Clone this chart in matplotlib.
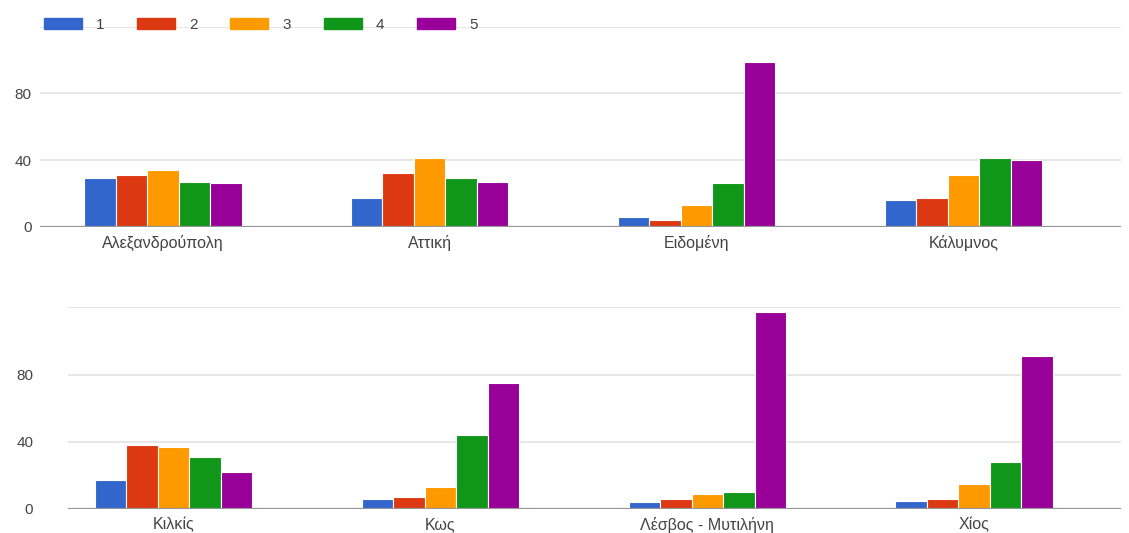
import matplotlib
matplotlib.use("Agg")
import matplotlib.pyplot as plt
from matplotlib.patches import Rectangle
import numpy as np

plt.rcParams["font.family"] = ["Liberation Sans", "DejaVu Sans"]

# Locations, split over two rows of four
locations_top = ["Αλεξανδρούπολη", "Αττική", "Ειδομένη", "Κάλυμνος"]
locations_bottom = ["Κιλκίς", "Κως", "Λέσβος - Μυτιλήνη", "Χίος"]

# Rating labels (legend)
ratings = ["1", "2", "3", "4", "5"]

# Counts per rating, in location order (top row then bottom row)
rating_1 = [29, 17, 6, 16, 17, 6, 4, 5]
rating_2 = [31, 32, 4, 17, 38, 7, 6, 6]
rating_3 = [34, 41, 13, 31, 37, 13, 9, 15]
rating_4 = [27, 29, 26, 41, 31, 44, 10, 28]
rating_5 = [26, 27, 99, 40, 22, 75, 117, 91]

y_ticks = [0, 40, 80]
y_top = 120

colors = ["#3366cc", "#dc3912", "#ff9900", "#109618", "#990099"]
text_color = "#444444"
fs = 11

W, H = 1129, 533
fig = plt.figure(figsize=(W / 100, H / 100), dpi=100)

series = [rating_1, rating_2, rating_3, rating_4, rating_5]


def draw_panel(ax, names, vals, xlim):
    n = len(names)
    x = np.arange(n)
    bw = 0.118
    for k, (v, c) in enumerate(zip(vals, colors)):
        ax.bar(x + (k - 2) * bw, v, width=bw, color=c, edgecolor="white",
               linewidth=0.8, zorder=3)
    ax.set_xlim(*xlim)
    ax.set_ylim(0, y_top)
    for g in y_ticks[1:] + [y_top]:
        ax.axhline(g, color="#e3e3e3", linewidth=1.2, zorder=1)
    ax.axhline(0, color="#959595", linewidth=1.6, zorder=4)
    ax.set_yticks(y_ticks)
    ax.set_yticklabels([str(t) for t in y_ticks])
    ax.set_xticks(x)
    ax.set_xticklabels(names)
    ax.tick_params(axis="both", length=0, colors=text_color, labelsize=fs)
    ax.tick_params(axis="x", labelsize=fs + 0.5, pad=6)
    for s in ax.spines.values():
        s.set_visible(False)
    ax.patch.set_alpha(0)


# Top row
ax1 = fig.add_axes([40 / W, (H - 226.7) / H, (1121 - 40) / W, 200 / H])
draw_panel(ax1, locations_top, [s[:4] for s in series], (-0.46, 3.59))
ax1.tick_params(axis="y", pad=6)

# Bottom row
ax2 = fig.add_axes([68 / W, (H - 509) / H, (1121 - 68) / W, 201.7 / H])
draw_panel(ax2, locations_bottom, [s[4:] for s in series], (-0.395, 3.55))
ax2.tick_params(axis="y", pad=25)

handles = [Rectangle((0, 0), 1, 1, color=c) for c in colors]
leg = fig.legend(handles, ratings, loc="center left",
                 bbox_to_anchor=(30 / W, 1 - 25 / H), ncol=5, frameon=False,
                 fontsize=fs, handlelength=2.49, handleheight=0.78,
                 handletextpad=0.92, columnspacing=2.14, labelcolor=text_color)

fig.savefig("out.png", dpi=100)
